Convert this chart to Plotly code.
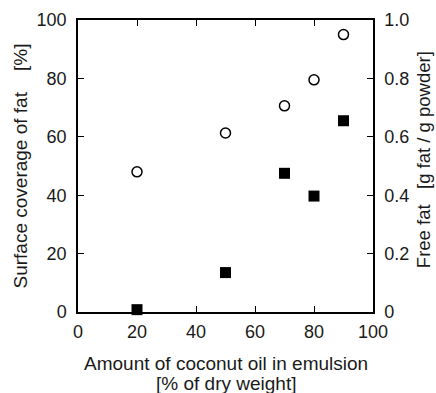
import plotly.graph_objects as go

coconut_pct = [20, 50, 70, 80, 90]
surface_coverage = [48, 61.3, 70.6, 79.5, 95]
free_fat = [0.008, 0.135, 0.475, 0.397, 0.655]

left_ticks = [0, 20, 40, 60, 80, 100]
right_tickvals = [0, 0.2, 0.4, 0.6, 0.8, 1.0]
right_ticktext = ["0", "0.2", "0.4", "0.6", "0.8", "1.0"]
x_ticks = [0, 20, 40, 60, 80, 100]
x_title_lines = ["Amount of coconut oil in emulsion", "[% of dry weight]"]
right_title = "Free fat   [g fat / g powder]"

FONT = "Liberation Sans, Arial, sans-serif"
TXT = "#1a1a1a"

fig = go.Figure()
fig.add_trace(go.Scatter(
    x=coconut_pct, y=surface_coverage, mode="markers",
    marker=dict(symbol="circle-open", size=10, color="black", line=dict(width=1.5)),
    showlegend=False, cliponaxis=False))
fig.add_trace(go.Scatter(
    x=coconut_pct, y=free_fat, mode="markers", yaxis="y2",
    marker=dict(symbol="square", size=11, color="black"),
    showlegend=False, cliponaxis=False))

axis_common = dict(showgrid=False, zeroline=False, showline=True, linecolor="black",
                   linewidth=1.5, ticks="inside", ticklen=6, tickwidth=1.2,
                   tickcolor="black", automargin=False,
                   tickfont=dict(size=18, color=TXT, family=FONT))

for i, line in enumerate(x_title_lines):
    fig.add_annotation(text=line, xref="paper", yref="paper", x=0.5, y=0,
                       xanchor="center", yanchor="middle", yshift=-51 - 20 * i,
                       showarrow=False, font=dict(size=19, color=TXT, family=FONT))

fig.add_annotation(text=right_title, xref="paper", yref="paper", x=1, y=0.52,
                   xanchor="center", yanchor="middle", xshift=50, textangle=-90,
                   showarrow=False, font=dict(size=18.5, color=TXT, family=FONT))

fig.update_layout(
    width=436, height=393,
    margin=dict(l=78, r=63, t=20, b=81),
    paper_bgcolor="white", plot_bgcolor="white",
    font=dict(family=FONT, color=TXT),
    xaxis=dict(range=[0, 100], tickvals=x_ticks, mirror="ticks",
               ticklabelstandoff=3, **axis_common),
    yaxis=dict(range=[0, 100], tickvals=left_ticks,
               title=dict(text="Surface coverage of fat    [%]", font=dict(size=19), standoff=4),
               ticklabelstandoff=6, **axis_common),
    yaxis2=dict(range=[0, 1.0], tickvals=right_tickvals, ticktext=right_ticktext,
                overlaying="y", side="right",
                ticklabelstandoff=6, **axis_common),
)

fig.write_html("out.html")
